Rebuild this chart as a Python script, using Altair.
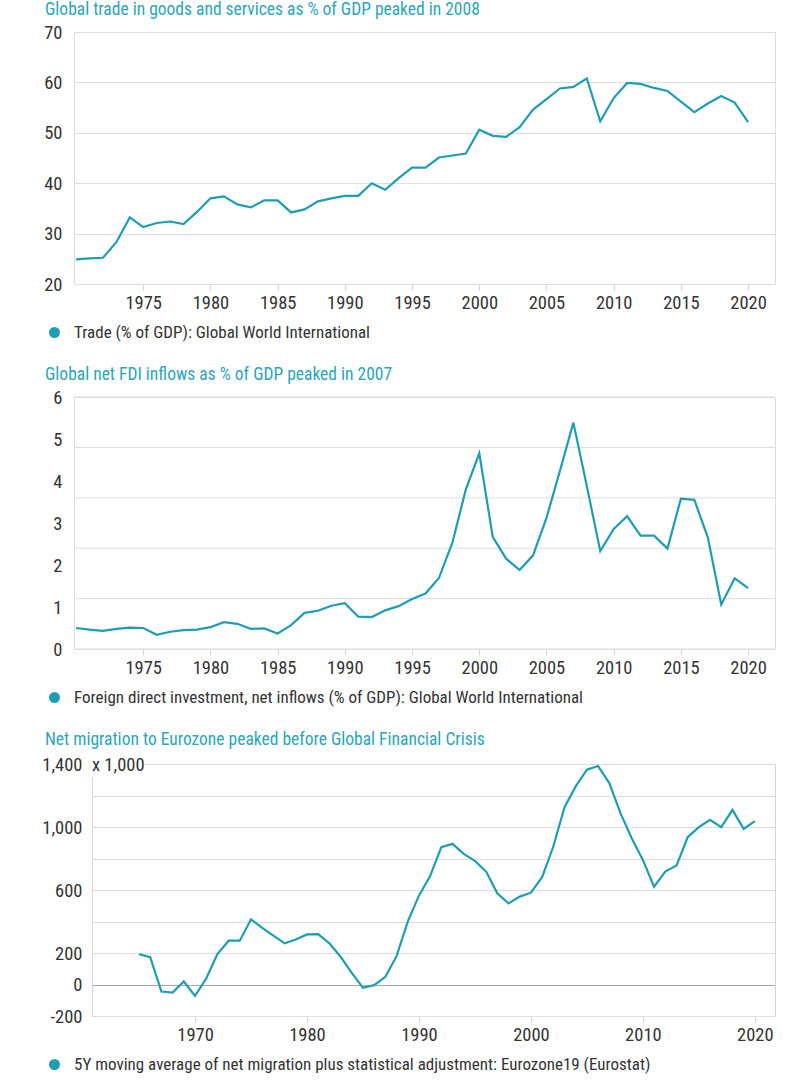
import altair as alt
import pandas as pd

# ---------------- data ----------------
trade_years = list(range(1970, 2021))
trade_values = [24.9, 25.1, 25.2, 28.3, 33.2, 31.3, 32.1, 32.4, 31.9, 34.3,
                37.0, 37.4, 35.8, 35.2, 36.6, 36.6, 34.2, 34.8, 36.4, 37.0,
                37.5, 37.5, 40.0, 38.7, 41.0, 43.1, 43.1, 45.1, 45.5, 45.9,
                50.6, 49.4, 49.2, 51.1, 54.6, 56.7, 58.8, 59.1, 60.8, 52.3,
                56.9, 59.9, 59.7, 58.9, 58.3, 56.2, 54.1, 55.8, 57.3, 56.0, 52.1]
trade_name = "Trade (% of GDP): Global World International"
trade_title = "Global trade in goods and services as % of GDP peaked in 2008"

fdi_years = list(range(1970, 2021))
fdi_values = [0.50, 0.46, 0.43, 0.48, 0.51, 0.50, 0.34, 0.41, 0.45, 0.46,
              0.52, 0.64, 0.60, 0.48, 0.49, 0.37, 0.57, 0.86, 0.91, 1.03,
              1.09, 0.77, 0.76, 0.92, 1.02, 1.19, 1.32, 1.69, 2.53, 3.80,
              4.66, 2.67, 2.15, 1.88, 2.23, 3.12, 4.24, 5.39, 3.88, 2.33,
              2.86, 3.16, 2.70, 2.70, 2.39, 3.58, 3.55, 2.66, 1.06, 1.68, 1.45]
fdi_name = "Foreign direct investment, net inflows (% of GDP): Global World International"
fdi_title = "Global net FDI inflows as % of GDP peaked in 2007"
fdi_grid = [0, 1.2, 2.4, 3.6, 4.8, 6]

mig_years = list(range(1965, 2021))
mig_values = [193, 174, -45, -51, 19, -72, 38, 193, 278, 278,
              414, 360, 310, 261, 286, 318, 320, 261, 176, 74,
              -21, -4, 49, 180, 399, 564, 689, 872, 893, 829,
              785, 717, 579, 515, 558, 583, 681, 876, 1126, 1258,
              1364, 1387, 1279, 1088, 929, 791, 621, 717, 755, 935,
              999, 1046, 999, 1109, 988, 1037]
mig_name = "5Y moving average of net migration plus statistical adjustment: Eurozone19 (Eurostat)"
mig_title = "Net migration to Eurozone peaked before Global Financial Crisis"

ticks_a = [1975, 1980, 1985, 1990, 1995, 2000, 2005, 2010, 2015, 2020]
ticks_b = [1970, 1980, 1990, 2000, 2010, 2020]

# ---------------- style ----------------
FONT = "Liberation Sans Narrow, Roboto Condensed, Arial Narrow, sans-serif"
TEAL = "#1f9db3"
TITLE_C = "#2aa6b9"
GRID = "#dddddd"
FRAME = "#d4d4d4"
TEXT = "#333333"

W, H = 701, 252
INSET3 = 18          # migration panel plot starts further right
LAB = 18.5


def x_axis(vals):
    return alt.Axis(values=vals, format="d", title=None, grid=False, domain=False,
                    tickColor=FRAME, tickSize=6, labelPadding=3, labelFontSize=LAB,
                    labelFont=FONT, labelColor=TEXT, labelFlush=False)


def legend():
    return alt.Legend(title=None, orient="none", legendX=-28, legendY=292,
                      symbolType="circle", symbolSize=121, symbolFillColor=TEAL,
                      symbolStrokeColor=TEAL, symbolStrokeWidth=0,
                      labelFontSize=17, labelFont=FONT, labelColor=TEXT,
                      labelLimit=900, labelOffset=11)


def title(t):
    return alt.TitleParams(t, anchor="start", frame="group", dx=-29, fontSize=17.5,
                           font=FONT, color=TITLE_C, fontWeight="normal", offset=5)


# ---------------- chart 1 ----------------
df1 = pd.DataFrame({"year": trade_years, "value": trade_values, "series": trade_name})
c1 = alt.Chart(df1).mark_line(strokeWidth=2.2).encode(
    x=alt.X("year:Q", scale=alt.Scale(domain=[1969.85, 2022], nice=False, zero=False),
            axis=x_axis(ticks_a)),
    y=alt.Y("value:Q", scale=alt.Scale(domain=[20, 70], nice=False, zero=False),
            axis=alt.Axis(values=[20, 30, 40, 50, 60, 70], title=None, grid=True,
                          gridColor=GRID, domain=False, ticks=False, labelPadding=12,
                          labelFontSize=LAB, labelFont=FONT, labelColor=TEXT)),
    color=alt.Color("series:N", scale=alt.Scale(domain=[trade_name], range=[TEAL]),
                    legend=legend()),
).properties(width=W, height=H, title=title(trade_title))

# ---------------- chart 2 ----------------
df2 = pd.DataFrame({"year": fdi_years, "value": fdi_values, "series": fdi_name})
y2_scale = alt.Scale(domain=[0, 6], nice=False, zero=False)
y2_axis = alt.Axis(values=[0, 1, 2, 3, 4, 5, 6], title=None, grid=False, domain=False,
                   ticks=False, labelPadding=12, labelFontSize=LAB, labelFont=FONT,
                   labelColor=TEXT)
grid2 = alt.Chart(pd.DataFrame({"v": fdi_grid})).mark_rule(color=GRID, strokeWidth=1).encode(
    y=alt.Y("v:Q", scale=y2_scale, axis=y2_axis)
)
line2 = alt.Chart(df2).mark_line(strokeWidth=2.2).encode(
    x=alt.X("year:Q", scale=alt.Scale(domain=[1969.85, 2022], nice=False, zero=False),
            axis=x_axis(ticks_a)),
    y=alt.Y("value:Q", scale=y2_scale, axis=y2_axis),
    color=alt.Color("series:N", scale=alt.Scale(domain=[fdi_name], range=[TEAL]),
                    legend=legend()),
)
c2 = alt.layer(grid2, line2).properties(width=W, height=H, title=title(fdi_title))

# ---------------- chart 3 ----------------
df3 = pd.DataFrame({"year": mig_years, "value": mig_values, "series": mig_name})
x3 = alt.X("year:Q", scale=alt.Scale(domain=[1960.8, 2021.8], range=[INSET3, W],
                                     nice=False, zero=False),
           axis=x_axis(ticks_b))
y3_scale = alt.Scale(domain=[-200, 1400], nice=False, zero=False)
line3 = alt.Chart(df3).mark_line(strokeWidth=2.2).encode(
    x=x3,
    y=alt.Y("value:Q", scale=y3_scale,
            axis=alt.Axis(values=[-200, 0, 200, 400, 600, 800, 1000, 1200, 1400],
                          title=None, grid=True, offset=-INSET3,
                          gridColor={"condition": {"test": "datum.value === 0", "value": "#a6a6a6"},
                                     "value": GRID},
                          labelExpr="(datum.value == 1200 || datum.value == 800 || datum.value == 400) ? '' : (datum.value < 0 ? '-' + format(-datum.value, ',') : format(datum.value, ','))",
                          domain=True, domainColor=FRAME, ticks=False, labelPadding=10,
                          labelFontSize=LAB, labelFont=FONT, labelColor=TEXT)),
    color=alt.Color("series:N", scale=alt.Scale(domain=[mig_name], range=[TEAL]),
                    legend=legend()),
)
edge3 = alt.Chart(df3).mark_line(opacity=0).encode(
    x=x3,
    y=alt.Y("value:Q", scale=y3_scale,
            axis=alt.Axis(orient="right", title=None, labels=False, ticks=False, grid=False,
                          domain=True, domainColor=FRAME)),
)
one = alt.Data(values=[{"k": 1}])
mask3 = alt.Chart(one).mark_rect(color="white").encode(
    x=alt.value(INSET3 - 2), x2=alt.value(INSET3 + 53), y=alt.value(-11), y2=alt.value(13)
)
unit3 = alt.Chart(one).mark_text(align="left", baseline="middle", font=FONT, fontSize=LAB,
                                 color=TEXT, text="x 1,000").encode(
    x=alt.value(INSET3), y=alt.value(1)
)
c3 = alt.layer(line3, edge3, mask3, unit3).resolve_axis(y="independent").properties(
    width=W, height=H, title=title(mig_title),
    view=alt.ViewBackground(stroke="transparent"))

chart = alt.vconcat(c1, c2, c3, spacing=23).resolve_scale(color="independent").properties(
    padding={"left": 41, "top": 0, "right": 5, "bottom": 0}
).configure_view(stroke=FRAME, strokeWidth=1).configure(background="white")

chart.save("out.html", embed_options={"renderer": "svg", "actions": False})
